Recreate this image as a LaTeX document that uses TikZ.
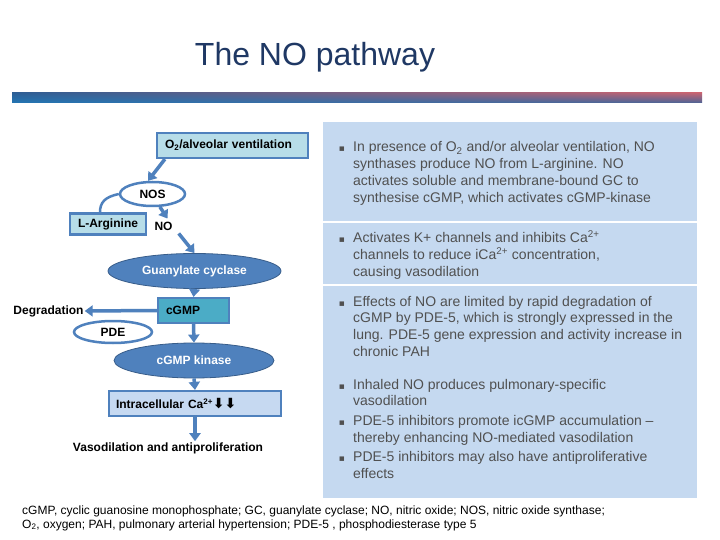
\documentclass[tikz,border=0pt]{standalone}
\usepackage{fontspec}
\setmainfont{Liberation Sans}
\newfontfamily\dejavu{DejaVu Sans}
\usetikzlibrary{shapes.geometric,arrows.meta,calc,shadings}
\definecolor{nblue}{RGB}{79,129,189}
\definecolor{nbluedark}{RGB}{56,93,138}
\definecolor{lightfill}{RGB}{183,221,232}
\definecolor{tealfill}{RGB}{75,172,198}
\definecolor{lavfill}{RGB}{198,217,241}
\definecolor{panelfill}{RGB}{197,217,240}
\definecolor{paneltext}{RGB}{80,80,80}
\definecolor{titleblue}{RGB}{31,56,100}
\definecolor{barUL}{RGB}{45,95,150}
\definecolor{barUR}{RGB}{195,100,115}
\definecolor{barLL}{RGB}{35,118,180}
\definecolor{barLR}{RGB}{75,100,150}
\begin{document}
\begin{tikzpicture}[x=1pt,y=-1pt,
  arr/.style={draw=nblue, line width=3.5pt, -{Triangle[length=8pt,width=11pt]}},
  bfs/.style={font=\bfseries\fontsize{12}{14}\selectfont},
  lbox/.style={bfs, draw=nblue, line width=2.2pt, inner sep=0pt},
  wellipse/.style={bfs, ellipse, draw=nblue, line width=2.5pt, fill=white, inner sep=0pt},
  bellipse/.style={bfs, ellipse, draw=nbluedark, line width=0.8pt, fill=nblue, text=white, inner sep=0pt},
  plain/.style={bfs, inner sep=1pt},
  ptxt/.style={font=\fontsize{14}{16.7}\selectfont, text=paneltext, anchor=base west, inner sep=0pt},
  bul/.style={font=\dejavu\fontsize{9}{10}\selectfont, text=paneltext, anchor=base, inner sep=0pt},
  foot/.style={font=\fontsize{12}{14}\selectfont, anchor=base west, inner sep=0pt}
]
\useasboundingbox (0,0) rectangle (720,540);
\fill[white] (0,0) rectangle (720,540);

% title and bar
\node[font=\fontsize{32}{36}\selectfont, text=titleblue, anchor=base, inner sep=0pt] (title) at (315,66) {The NO pathway};
\shade[upper left=barUL, upper right=barUR, lower left=barLL, lower right=barLR]
  (12,93) rectangle (702,103);

% right panel
\fill[panelfill] (323,122) rectangle (697,498);
\draw[white, line width=1.5pt] (323,222) -- (697,222);
\draw[white, line width=1.5pt] (323,285) -- (697,285);

\node[bul] (b1) at (342,152) {▪};
\node[ptxt] (t1) at (353,152) {\vtop{\hbox{In presence of O\textsubscript{2} and/or alveolar ventilation, NO}\hbox{synthases produce NO from L-arginine. NO}\hbox{activates soluble and membrane-bound GC to}\hbox{synthesise cGMP, which activates cGMP-kinase}}};
\node[bul] (b2) at (342,242.7) {▪};
\node[ptxt] (t2) at (353,242.7) {\vtop{\hbox{Activates K+ channels and inhibits Ca\textsuperscript{2+}}\hbox{channels to reduce iCa\textsuperscript{2+} concentration,}\hbox{causing vasodilation}}};
\node[bul] (b3) at (342,306) {▪};
\node[ptxt] (t3) at (353,306) {\vtop{\hbox{Effects of NO are limited by rapid degradation of}\hbox{cGMP by PDE-5, which is strongly expressed in the}\hbox{lung. PDE-5 gene expression and activity increase in}\hbox{chronic PAH}}};
\node[bul] (b4) at (342,389) {▪};
\node[ptxt] (t4) at (353,389) {\vtop{\hbox{Inhaled NO produces pulmonary-specific}\hbox{vasodilation}}};
\node[bul] (b5) at (342,425.7) {▪};
\node[ptxt] (t5) at (353,425.7) {\vtop{\hbox{PDE-5 inhibitors promote icGMP accumulation --}\hbox{thereby enhancing NO-mediated vasodilation}}};
\node[bul] (b6) at (342,461.7) {▪};
\node[ptxt] (t6) at (353,461.7) {\vtop{\hbox{PDE-5 inhibitors may also have antiproliferative}\hbox{effects}}};

% footer
\node[foot] (f1) at (22,514) {cGMP, cyclic guanosine monophosphate; GC, guanylate cyclase; NO, nitric oxide; NOS, nitric oxide synthase;};
\node[foot] (f2) at (22,528) {O\textsubscript{2}, oxygen; PAH, pulmonary arterial hypertension; PDE-5 , phosphodiesterase type 5};

% left diagram
\node[lbox, fill=lightfill, minimum height=25pt, inner xsep=8pt, text width=135pt, align=left] (o2) at (232.5,145.5) {O\textsubscript{2}/alveolar ventilation};
\node[wellipse, minimum width=65pt, minimum height=24pt] (nos) at (152.5,194) {NOS};
\node[lbox, fill=lightfill, minimum width=76pt, minimum height=21pt] (larg) at (108,224) {L-Arginine};
\node[plain] (no) at (163.5,226) {NO};
\node[bellipse, minimum width=173pt, minimum height=35pt] (gc) at (194.5,271) {Guanylate cyclase};
\node[lbox, fill=tealfill, minimum height=25pt, inner xsep=8pt, text width=55pt, align=left] (cgmp) at (193.5,310.5) {cGMP};
\node[plain] (degr) at (48.5,311) {Degradation};
\node[wellipse, minimum width=78pt, minimum height=22pt] (pde) at (113,332) {PDE};
\node[bellipse, minimum width=160pt, minimum height=35pt] (kin) at (194,360.5) {cGMP kinase};
\node[lbox, fill=lavfill, minimum height=25pt, inner xsep=7pt, text width=158pt, align=left] (intra) at (195,403.5) {Intracellular Ca\textsuperscript{2+}{\dejavu\bfseries\fontsize{14}{14}\selectfont ⬇⬇}};
\node[plain] (vaso) at (168,448) {Vasodilation and antiproliferation};

\draw[arr] ($(o2.south west)+(9,0)$) -- (nos.109);
\draw[nblue, line width=2.5pt] (nos.west) .. controls ($(nos.west)+(-14,3)$) and ($(larg.north)+(-8,-10)$) .. ($(larg.north)+(-8,0)$);
\draw[arr] (nos.-60) -- ($(no.north)+(4,-2)$);
\draw[arr] ($(no.south east)+(5,2)$) -- (gc.north);
\draw[arr] (gc.south) -- (cgmp.north);
\draw[arr] (cgmp.west) -- (degr.east);
\draw[arr] (cgmp.south) -- (kin.north);
\draw[arr] (kin.south) -- (intra.north);
\draw[arr] (intra.south) -- (intra.south |- vaso.north);
\end{tikzpicture}
\end{document}
